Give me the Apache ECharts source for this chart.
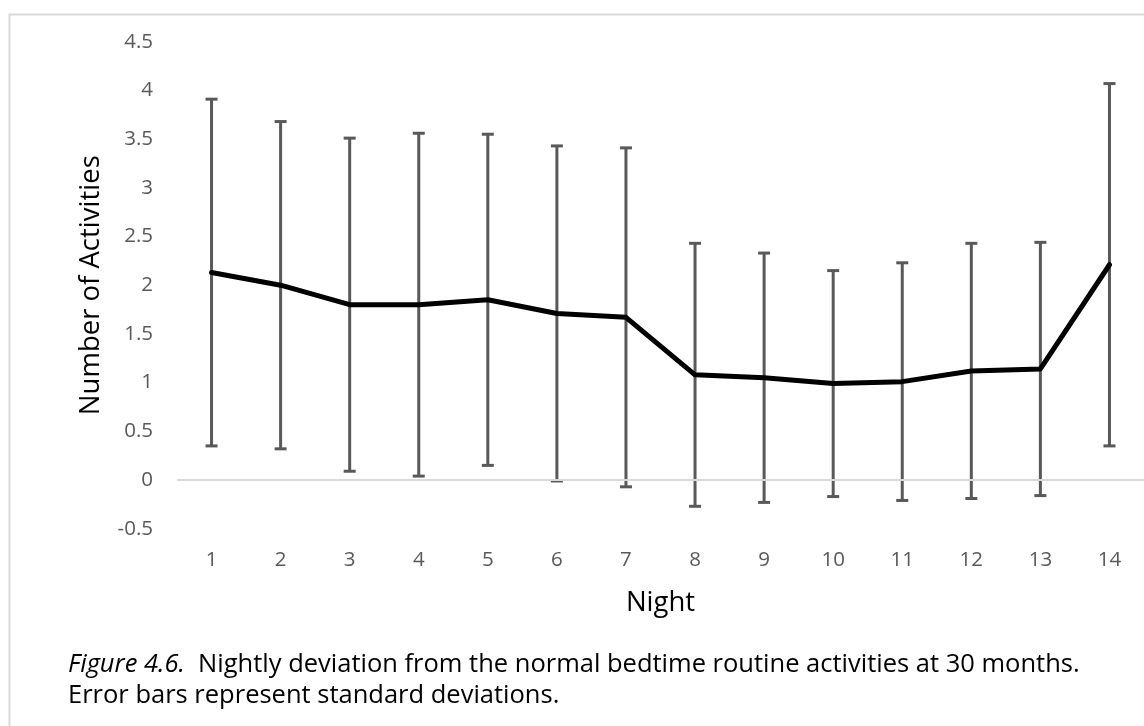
<!DOCTYPE html>
<html>
<head>
<meta charset="utf-8">
<script src="https://cdn.jsdelivr.net/npm/echarts@6/dist/echarts.min.js"></script>
<style>
html,body{margin:0;padding:0;background:#fff;}
#chart{width:1144px;height:726px;}
</style>
</head>
<body>
<div id="chart"></div>
<script>
var nights = ['1','2','3','4','5','6','7','8','9','10','11','12','13','14'];
var means = [2.13, 2.00, 1.80, 1.80, 1.85, 1.71, 1.67, 1.08, 1.05, 0.99, 1.01, 1.12, 1.14, 2.21];
var sds = [1.78, 1.68, 1.71, 1.76, 1.70, 1.72, 1.74, 1.35, 1.28, 1.16, 1.22, 1.31, 1.30, 1.86];
var yTicks = { min: -0.5, max: 4.5, interval: 0.5 };

var errData = means.map(function (m, i) { return [i, m - sds[i], m + sds[i]]; });

var chart = echarts.init(document.getElementById('chart'), null, { renderer: 'canvas' });
var FONT = '"Open Sans", "Liberation Sans", sans-serif';
var capHalf = 6;

chart.setOption({
  animation: false,
  backgroundColor: '#ffffff',
  grid: { left: 177, top: 41.7, width: 980, height: 487, containLabel: false },
  xAxis: {
    type: 'category',
    data: nights,
    boundaryGap: true,
    name: 'Night',
    nameLocation: 'middle',
    nameGap: 60,
    nameTextStyle: { color: '#000', fontSize: 27.5, fontFamily: FONT },
    axisLine: { show: false, onZero: false },
    axisTick: { show: false },
    axisLabel: { color: '#595959', fontSize: 20.5, fontFamily: FONT, margin: 21 },
    splitLine: { show: false }
  },
  yAxis: {
    type: 'value',
    min: yTicks.min,
    max: yTicks.max,
    interval: yTicks.interval,
    name: 'Number of Activities',
    nameLocation: 'middle',
    nameGap: 72,
    nameTextStyle: { color: '#000', fontSize: 27.5, fontFamily: FONT },
    axisLine: { show: false },
    axisTick: { show: false },
    axisLabel: { color: '#595959', fontSize: 20.5, fontFamily: FONT, margin: 24 },
    splitLine: { show: false }
  },
  graphic: [
    {
      type: 'rect', left: 7, top: 12, silent: true,
      shape: { width: 1300, height: 900 },
      style: { fill: 'none', stroke: '#d9d9d9', lineWidth: 2 }
    },
    {
      type: 'text', silent: true,
      style: {
        x: 68, y: 665, verticalAlign: 'middle',
        text: '{i|Figure 4.6.}  Nightly deviation from the normal bedtime routine activities at 30 months.',
        fill: '#000', fontSize: 25.5, fontFamily: FONT,
        rich: { i: { fontStyle: 'italic', fontSize: 25.5, fontFamily: FONT, fill: '#000' } }
      }
    },
    {
      type: 'text', silent: true,
      style: {
        x: 68, y: 696, verticalAlign: 'middle',
        text: 'Error bars represent standard deviations.',
        fill: '#000', fontSize: 25.5, fontFamily: FONT
      }
    }
  ],
  series: [
    {
      type: 'custom',
      name: 'SD',
      data: errData,
      z: 2,
      silent: true,
      encode: { x: 0, y: [1, 2] },
      renderItem: function (params, api) {
        var x = api.value(0);
        var lo = api.coord([x, api.value(1)]);
        var hi = api.coord([x, api.value(2)]);
        var st = { stroke: '#595959', lineWidth: 3, fill: 'none' };
        return {
          type: 'group',
          children: [
            { type: 'line', shape: { x1: lo[0], y1: lo[1], x2: hi[0], y2: hi[1] }, style: st },
            { type: 'line', shape: { x1: hi[0] - capHalf, y1: hi[1], x2: hi[0] + capHalf, y2: hi[1] }, style: st },
            { type: 'line', shape: { x1: lo[0] - capHalf, y1: lo[1], x2: lo[0] + capHalf, y2: lo[1] }, style: st }
          ]
        };
      }
    },
    {
      type: 'line',
      name: 'Mean',
      data: means,
      z: 3,
      symbol: 'none',
      lineStyle: { color: '#000', width: 5, join: 'round', cap: 'round' },
      markLine: {
        silent: true,
        symbol: 'none',
        label: { show: false },
        lineStyle: { color: '#d9d9d9', width: 2, type: 'solid' },
        data: [{ yAxis: 0 }]
      }
    }
  ]
});
</script>
</body>
</html>
